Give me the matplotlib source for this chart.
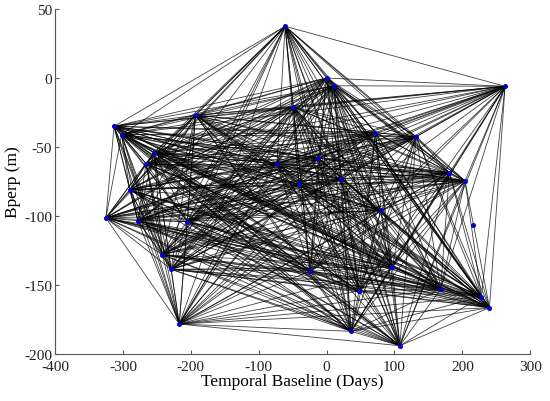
import itertools
import numpy as np
import matplotlib
matplotlib.use("Agg")
import matplotlib.pyplot as plt

# acquisition positions: temporal baseline (days) and perpendicular baseline (m)
t_days = [-61, 0, 11, 263, -313, -302, -193, -49, -254, -266, -73, 72, 132,
          181, 204, -12, -290, -325, -278, -205, -242, -229, -217, -24, 48,
          97, 168, 228, 240, 36, 108, 22, 80, -41, 216]
bperp = [37.5, 0, -5.6, -6, -35, -41, -27, -21, -54, -62, -62, -39.5, -42.5,
         -68.7, -74.6, -58, -81, -101.4, -103.4, -104, -128, -138.6, -178.3,
         -140, -154.3, -137, -153, -158.5, -166.4, -183.6, -194, -73, -96,
         -77, -106.5]
# images left out of the interferogram network
isolated = [34]

plt.rcParams["font.family"] = ["Liberation Serif", "DejaVu Serif"]
plt.rcParams["axes.unicode_minus"] = False

fig = plt.figure(figsize=(5.5, 4.02), dpi=100)
ax = fig.add_axes([0.1, 0.117, 0.864, 0.858])

nodes = [i for i in range(len(t_days)) if i not in isolated]
for i, j in itertools.combinations(nodes, 2):
    ax.plot([t_days[i], t_days[j]], [bperp[i], bperp[j]],
            color="black", lw=0.6, alpha=0.75, zorder=1)

ax.plot(t_days, bperp, "o", color="#0000cc", ms=2.6, zorder=2)

ax.set_xlim(-400, 300)
ax.set_ylim(-200, 50)
ax.set_xticks(np.arange(-400, 301, 100))
ax.set_yticks(np.arange(-200, 51, 50))
ax.set_xlabel("Temporal Baseline (Days)", fontsize=12.5, labelpad=0)
ax.set_ylabel("Bperp (m)", fontsize=12.5, labelpad=0)
ax.yaxis.set_label_coords(-0.072, 0.5)
ax.spines["top"].set_visible(False)
ax.spines["right"].set_visible(False)
for s in ("left", "bottom"):
    ax.spines[s].set_color("#555555")
    ax.spines[s].set_linewidth(0.8)
ax.tick_params(direction="in", length=3, labelsize=11, colors="#555555",
               labelcolor="#222222", pad=2)
ax.tick_params(axis="x", pad=4)

fig.savefig("out.png", dpi=100, facecolor="white")
